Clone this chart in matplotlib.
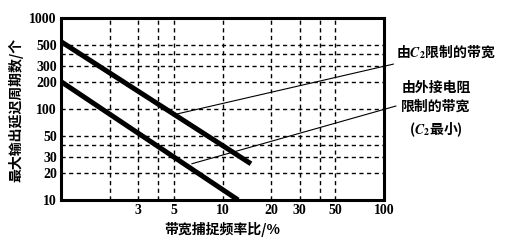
import matplotlib
matplotlib.use("Agg")
import matplotlib.pyplot as plt
from matplotlib.ticker import FixedLocator, NullLocator, FixedFormatter

plt.rcParams['mathtext.fontset'] = 'stix'

# Data
line_c2_x = [1, 15]
line_c2_y = [550, 25]
line_r_x = [1, 12.5]
line_r_y = [200, 10]
ann_c2_xy = (5.2, 88)
ann_r_xy = (6.45, 25)
xgrid = [2, 3, 4, 5, 10, 20, 30, 40, 50]
ygrid = [20, 30, 40, 50, 100, 200, 300, 400, 500]
xticks = [3, 5, 10, 20, 30, 50, 100]
xticklabels = ["3", "5", "10", "20", "30", "50", "100"]
yticks = [10, 20, 30, 50, 100, 200, 300, 500, 1000]
yticklabels = ["10", "20", "30", "50", "100", "200", "300", "500", "1000"]
xlabel = "带宽捕捉频率比/%"
ylabel = "最大输出延迟周期数/个"
label_c2 = r"由$\mathbfit{C}_\mathbf{2}$限制的带宽"
label_r = "由外接电阻\n限制的带宽\n" + r"($\mathbfit{C}_\mathbf{2}$最小)"

cjk = ['Noto Sans CJK SC', 'DejaVu Sans']
serif = ['Liberation Serif', 'DejaVu Serif']

fig = plt.figure(figsize=(5.11, 2.43), dpi=100)
ax = fig.add_axes([61/511, 1-200/243, (384-61)/511, (200-18)/243])
ax.set_xscale('log')
ax.set_yscale('log')
ax.set_xlim(1, 100)
ax.set_ylim(10, 1000)

for gx in xgrid:
    ax.axvline(gx, color='black', lw=1.0, ls=(0, (3, 2.5)), zorder=1)
for gy in ygrid:
    ax.axhline(gy, color='black', lw=1.0, ls=(0, (3, 2.5)), zorder=1)

ax.plot(line_c2_x, line_c2_y, color='black', lw=3.6, solid_capstyle='butt', zorder=3)
ax.plot(line_r_x, line_r_y, color='black', lw=3.6, solid_capstyle='butt', zorder=3)

for s in ax.spines.values():
    s.set_linewidth(2.2)
    s.set_color('black')

ax.xaxis.set_major_locator(FixedLocator(xticks))
ax.xaxis.set_major_formatter(FixedFormatter(xticklabels))
ax.xaxis.set_minor_locator(NullLocator())
ax.yaxis.set_major_locator(FixedLocator(yticks))
ax.yaxis.set_major_formatter(FixedFormatter(yticklabels))
ax.yaxis.set_minor_locator(NullLocator())
ax.tick_params(length=0, pad=3)
for lab in ax.get_xticklabels() + ax.get_yticklabels():
    lab.set_family(serif)
    lab.set_fontweight('bold')
    lab.set_fontsize(10)

ax.set_xlabel(xlabel, family=cjk, fontweight='bold', fontsize=10)
ax.set_ylabel(ylabel, family=cjk, fontweight='bold', fontsize=10)
ax.xaxis.set_label_coords((222 - 61) / 323, -(229 - 200) / 182)
ax.yaxis.set_label_coords((16 - 61) / 323, (200 - 110) / 182)
ax.xaxis.label.set_va('center')
ax.yaxis.label.set_va('center')

def fig_px(px, py):
    return (px / 511, 1 - py / 243)

ax.annotate(label_c2, xy=ann_c2_xy, xycoords='data',
            xytext=fig_px(396, 52), textcoords='figure fraction',
            ha='left', va='center', family=cjk, fontweight='bold', fontsize=10,
            arrowprops=dict(arrowstyle='-', color='black', lw=0.8,
                            shrinkA=0, shrinkB=0), annotation_clip=False)
ax.annotate("", xy=ann_r_xy, xycoords='data',
            xytext=fig_px(396, 106), textcoords='figure fraction',
            arrowprops=dict(arrowstyle='-', color='black', lw=0.8,
                            shrinkA=0, shrinkB=0), annotation_clip=False)
fig.text(*fig_px(436, 110), label_r, ha='center', va='center', family=cjk,
         fontweight='bold', fontsize=10, linespacing=1.45)

fig.savefig("out.png", dpi=100, facecolor='white')
